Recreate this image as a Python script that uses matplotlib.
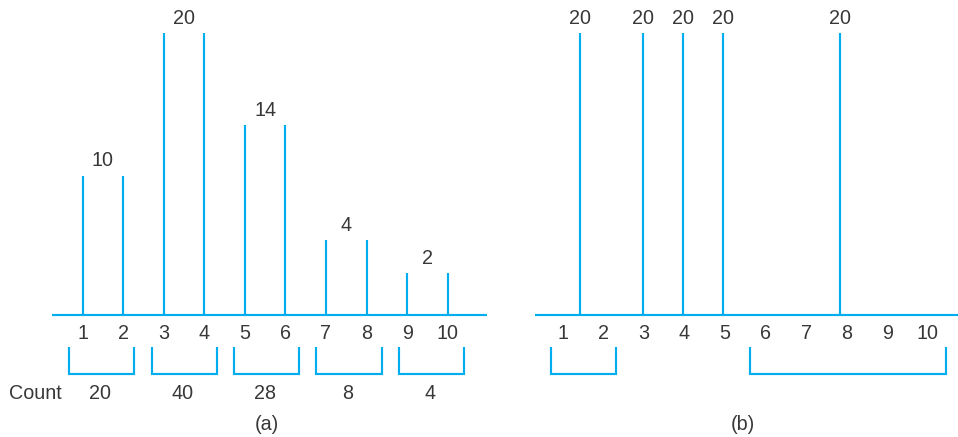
import matplotlib
matplotlib.use("Agg")
import matplotlib.pyplot as plt

# ---------------- data ----------------
values = [1, 2, 3, 4, 5, 6, 7, 8, 9, 10]
tick_labels = ["1", "2", "3", "4", "5", "6", "7", "8", "9", "10"]

# panel (a): equal-width bins of two values each
bins_a = [(1, 2), (3, 4), (5, 6), (7, 8), (9, 10)]
bin_labels_a = ["10", "20", "14", "4", "2"]
bin_heights_a = [9.9, 20.0, 13.5, 5.35, 3.0]     # drawn heights
counts_a = ["20", "40", "28", "8", "4"]
brackets_a = [(0.66, 2.27), (2.70, 4.31), (4.72, 6.34), (6.76, 8.37), (8.80, 10.41)]

# panel (b): equal-frequency style partition
lines_b = [1.43, 2.98, 3.97, 4.96, 7.84]
line_heights_b = [20, 20, 20, 20, 20]
line_labels_b = ["20", "20", "20", "20", "20"]
brackets_b = [(0.70, 2.32), (5.62, 10.46)]

# ---------------- style ----------------
BLUE = "#00AEEF"
TXT = "#383838"
LW = 1.55
FS = 14.2
WEIGHT = "normal"
plt.rcParams["font.family"] = ["Liberation Sans", "DejaVu Sans"]

W, H = 958, 437
fig = plt.figure(figsize=(W / 100, H / 100), dpi=100)

PX_Y = 14.1           # pixels per height unit
BASE_PX = 315.3       # baseline pixel row from top
PX_X = 40.55          # pixels per value unit
ylo = -(H - BASE_PX) / PX_Y
yhi = BASE_PX / PX_Y

def py(p):  # pixel row -> data y
    return -(p - BASE_PX) / PX_Y

def make_axes(x0px, x1px, v1px):
    ax = fig.add_axes([x0px / W, 0, (x1px - x0px) / W, 1])
    ax.set_xlim(1 - (v1px - x0px) / PX_X, 1 + (x1px - v1px) / PX_X)
    ax.set_ylim(ylo, yhi)
    ax.axis("off")
    return ax

def txt(ax, x, y, s):
    ax.text(x, y, s, ha="center", va="center", fontsize=FS, color=TXT,
            fontweight=WEIGHT)

def bracket(ax, a, b):
    t, bt = py(346.7), py(374.3)
    ax.plot([a, a, b, b], [t, bt, bt, t], color=BLUE, lw=LW,
            solid_joinstyle="miter", solid_capstyle="butt")

# ---------------- panel (a) ----------------
axa = make_axes(0, 490, 82.7)
axa.plot([1 + (52 - 82.7) / PX_X, 1 + (486.7 - 82.7) / PX_X], [0, 0],
         color=BLUE, lw=LW, solid_capstyle="butt")
for (lo, hi), h, lab in zip(bins_a, bin_heights_a, bin_labels_a):
    axa.vlines([lo, hi], 0, h, color=BLUE, lw=LW)
    txt(axa, (lo + hi) / 2, h + 1.05, lab)
for (a, b), cnt in zip(brackets_a, counts_a):
    bracket(axa, a, b)
    txt(axa, (a + b) / 2 - 0.03, py(393.3), cnt)
for v, t in zip(values, tick_labels):
    txt(axa, v, py(333.3), t)
txt(axa, 1 + (35.5 - 82.7) / PX_X, py(393.3), "Count")
txt(axa, 1 + (266.7 - 82.7) / PX_X, py(425), "(a)")

# ---------------- panel (b) ----------------
axb = make_axes(490, 958, 562.7)
axb.plot([1 + (535 - 562.7) / PX_X, axb.get_xlim()[1]], [0, 0],
         color=BLUE, lw=LW, solid_capstyle="butt")
for x, h, lab in zip(lines_b, line_heights_b, line_labels_b):
    axb.vlines(x, 0, h, color=BLUE, lw=LW)
    txt(axb, x, h + 1.05, lab)
for v, t in zip(values, tick_labels):
    txt(axb, v, py(333.3), t)
for a, b in brackets_b:
    bracket(axb, a, b)
txt(axb, 1 + (743.3 - 562.7) / PX_X, py(425), "(b)")

fig.savefig("out.png", dpi=100, facecolor="white")
